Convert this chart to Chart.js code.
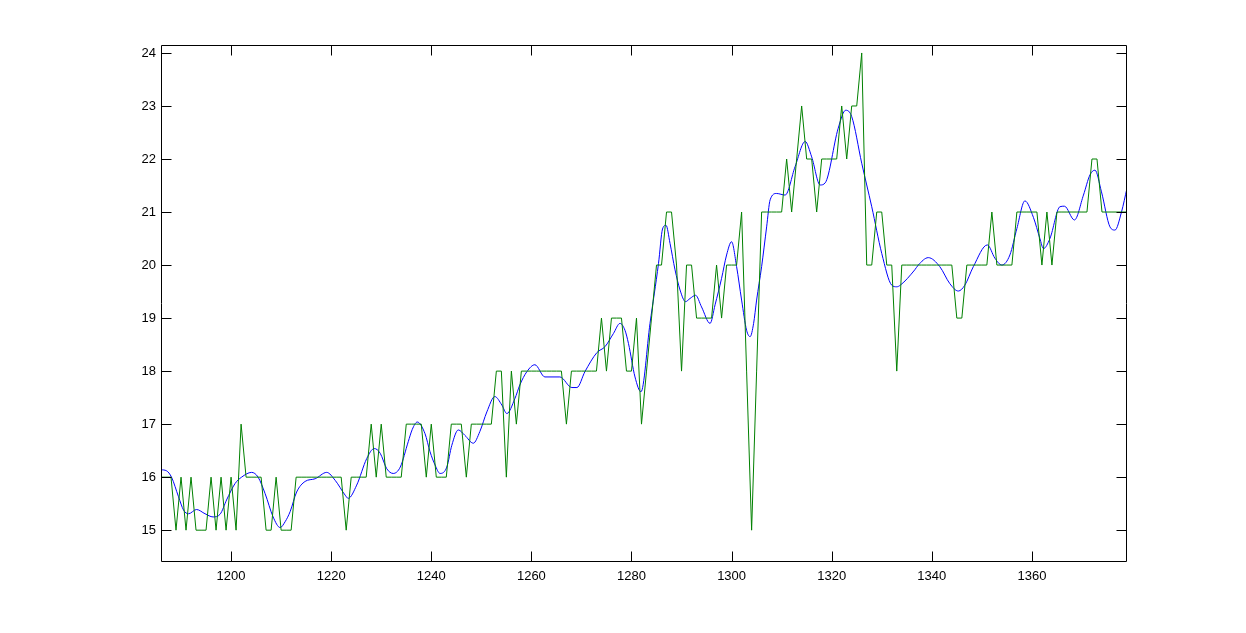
<!DOCTYPE html>
<html>
<head>
<meta charset="utf-8">
<script src="https://cdn.jsdelivr.net/npm/chart.js@4.4.1/dist/chart.umd.min.js"></script>
<style>
  body { margin: 0; background: #fff; }
  canvas { display: block; }
</style>
</head>
<body>
<canvas id="lineChart" width="1246" height="633"></canvas>
<script>
// raw samples, one per x step starting at firstX
const firstX = 1186;
const lastX = 1379;
const rawValues = [
  16, 16, 16, 15, 16, 15, 16, 15, 15, 15,   // 1186
  16, 15, 16, 15, 16, 15, 17, 16, 16, 16,   // 1196
  16, 15, 15, 16, 15, 15, 15, 16, 16, 16,   // 1206
  16, 16, 16, 16, 16, 16, 16, 15, 16, 16,   // 1216
  16, 16, 17, 16, 17, 16, 16, 16, 16, 17,   // 1226
  17, 17, 17, 16, 17, 16, 16, 16, 17, 17,   // 1236
  17, 16, 17, 17, 17, 17, 17, 18, 18, 16,   // 1246
  18, 17, 18, 18, 18, 18, 18, 18, 18, 18,   // 1256
  18, 17, 18, 18, 18, 18, 18, 18, 19, 18,   // 1266
  19, 19, 19, 18, 18, 19, 17, 18, 19, 20,   // 1276
  20, 21, 21, 20, 18, 20, 20, 19, 19, 19,   // 1286
  19, 20, 19, 20, 20, 20, 21, 18, 15, 18,   // 1296
  21, 21, 21, 21, 21, 22, 21, 22, 23, 22,   // 1306
  22, 21, 22, 22, 22, 22, 23, 22, 23, 23,   // 1316
  24, 20, 20, 21, 21, 20, 20, 18, 20, 20,   // 1326
  20, 20, 20, 20, 20, 20, 20, 20, 20, 19,   // 1336
  19, 20, 20, 20, 20, 20, 21, 20, 20, 20,   // 1346
  20, 21, 21, 21, 21, 21, 20, 21, 20, 21,   // 1356
  21, 21, 21, 21, 21, 21, 22, 22, 21, 21,   // 1366
  21, 21, 21, 21                            // 1376
];

const smoothX = [
  1186.0, 1187.1, 1188.1, 1189.5, 1190.5, 1191.5, 1193.1, 1194.8, 1196.4, 1197.8,
  1199.1, 1200.8, 1202.1, 1204.1, 1205.4, 1206.8, 1208.4, 1209.8, 1210.8, 1211.8,
  1213.1, 1214.8, 1216.8, 1219.1, 1220.8, 1222.8, 1223.4, 1225.1, 1227.1, 1228.6,
  1229.8, 1231.1, 1232.4, 1233.8, 1235.4, 1236.2, 1237.2, 1238.75, 1239.75, 1240.75,
  1241.75, 1243.1, 1244.1, 1245.4, 1246.7, 1248.4, 1249.7, 1251.1, 1252.7, 1254.1,
  1255.1, 1256.7, 1257.7, 1259.1, 1260.7, 1262.7, 1265.7, 1268.1, 1269.1, 1270.7,
  1273.1, 1274.7, 1276.4, 1277.7, 1278.7, 1279.4, 1280.7, 1281.9, 1283.7, 1285.4,
  1286.2, 1286.9, 1287.7, 1288.7, 1289.7, 1290.8, 1291.7, 1292.8, 1294.0, 1295.7,
  1296.7, 1298.0, 1299.0, 1300.0, 1301.0, 1302.0, 1303.0, 1303.7, 1304.4, 1305.0,
  1306.0, 1307.0, 1307.7, 1309.0, 1310.7, 1312.7, 1314.7, 1316.0, 1317.7, 1318.7,
  1321.3, 1322.8, 1324.0, 1326.0, 1328.0, 1330.0, 1332.0, 1333.0, 1333.7, 1336.6,
  1337.3, 1339.3, 1341.6, 1343.6, 1345.3, 1346.6, 1348.3, 1351.1, 1352.6, 1354.0,
  1355.6, 1357.0, 1358.6, 1360.3, 1361.6, 1362.3, 1363.6, 1365.6, 1366.5, 1368.5,
  1370.3, 1371.6, 1372.6, 1373.9, 1375.6, 1376.6, 1377.9, 1379.0
];
const smoothY = [
  16.14, 16.12, 16.00, 15.63, 15.38, 15.31, 15.39, 15.31, 15.25, 15.30,
  15.57, 15.88, 16.00, 16.09, 16.00, 15.69, 15.25, 15.05, 15.16, 15.35,
  15.72, 15.92, 15.97, 16.09, 15.94, 15.66, 15.60, 15.85, 16.35, 16.54,
  16.45, 16.16, 16.07, 16.19, 16.67, 16.90, 17.04, 16.82, 16.48, 16.23,
  16.07, 16.19, 16.60, 16.89, 16.79, 16.64, 16.86, 17.23, 17.52, 17.36,
  17.20, 17.48, 17.74, 17.99, 18.12, 17.89, 17.89, 17.69, 17.69, 17.99,
  18.35, 18.46, 18.71, 18.90, 18.77, 18.52, 17.89, 17.61, 18.90, 20.03,
  20.68, 20.75, 20.41, 19.91, 19.53, 19.31, 19.37, 19.43, 19.21, 18.90,
  19.25, 19.75, 20.19, 20.44, 19.97, 19.34, 18.77, 18.65, 18.90, 19.34,
  19.97, 20.72, 21.23, 21.35, 21.32, 21.86, 22.33, 22.04, 21.51, 21.55,
  22.58, 22.92, 22.80, 21.92, 21.10, 20.22, 19.62, 19.59, 19.62, 19.91,
  20.00, 20.14, 19.97, 19.65, 19.51, 19.62, 19.97, 20.38, 20.13, 20.00,
  20.19, 20.69, 21.21, 20.90, 20.50, 20.31, 20.50, 21.10, 21.11, 20.85,
  21.32, 21.70, 21.79, 21.38, 20.72, 20.66, 21.00, 21.45
];

const yMin = 14.4;
const yMax = 24.15;

Chart.defaults.font.family = "'Liberation Sans', Arial, sans-serif";
Chart.defaults.font.size = 13;
Chart.defaults.color = '#000';

const TICK_LEN = 10;

// matlab style box with inward ticks on all four sides
const boxPlugin = {
  id: 'box',
  afterDraw(chart) {
    const { ctx, chartArea: a, scales } = chart;
    const l = Math.round(a.left) + 0.5;
    const r = Math.round(a.right) - 0.5;
    const t = Math.round(a.top) + 0.5;
    const b = Math.round(a.bottom) - 0.5;
    ctx.save();
    ctx.strokeStyle = '#000';
    ctx.lineWidth = 1;
    ctx.beginPath();
    ctx.rect(l, t, r - l, b - t);
    scales.x.ticks.forEach(tk => {
      const px = Math.round(scales.x.getPixelForValue(tk.value)) + 0.5;
      ctx.moveTo(px, b); ctx.lineTo(px, b - TICK_LEN);
      ctx.moveTo(px, t); ctx.lineTo(px, t + TICK_LEN);
    });
    scales.y.ticks.forEach(tk => {
      const py = Math.round(scales.y.getPixelForValue(tk.value)) + 0.5;
      ctx.moveTo(l, py); ctx.lineTo(l + TICK_LEN, py);
      ctx.moveTo(r, py); ctx.lineTo(r - TICK_LEN, py);
    });
    ctx.stroke();
    ctx.restore();
  }
};

new Chart(document.getElementById('lineChart'), {
  type: 'line',
  data: {
    datasets: [
      {
        label: 'raw',
        data: rawValues.map((v, i) => ({ x: firstX + i, y: v })),
        borderColor: '#008000',
        borderWidth: 1,
        pointRadius: 0,
        tension: 0
      },
      {
        label: 'smoothed',
        data: smoothX.map((x, i) => ({ x: x, y: smoothY[i] })),
        borderColor: '#0000ff',
        borderWidth: 1,
        pointRadius: 0,
        cubicInterpolationMode: 'monotone'
      }
    ]
  },
  options: {
    responsive: false,
    animation: false,
    layout: { padding: { left: 101, top: 45, right: 119, bottom: 41 } },
    plugins: { legend: { display: false }, title: { display: false }, tooltip: { enabled: false } },
    scales: {
      x: {
        type: 'linear',
        min: firstX,
        max: lastX,
        grid: { display: false, drawTicks: false },
        border: { display: false },
        ticks: {
          stepSize: 20, includeBounds: false, maxTicksLimit: 20, padding: 7,
          maxRotation: 0, autoSkip: false,
          callback: v => String(v)
        },
        afterFit(scale) { scale.height = 30; }
      },
      y: {
        type: 'linear',
        min: yMin,
        max: yMax,
        grid: { display: false, drawTicks: false },
        border: { display: false },
        ticks: { stepSize: 1, includeBounds: false, maxTicksLimit: 20, padding: 5 },
        afterFit(scale) { scale.width = 60; }
      }
    }
  },
  plugins: [boxPlugin]
});
</script>
</body>
</html>
